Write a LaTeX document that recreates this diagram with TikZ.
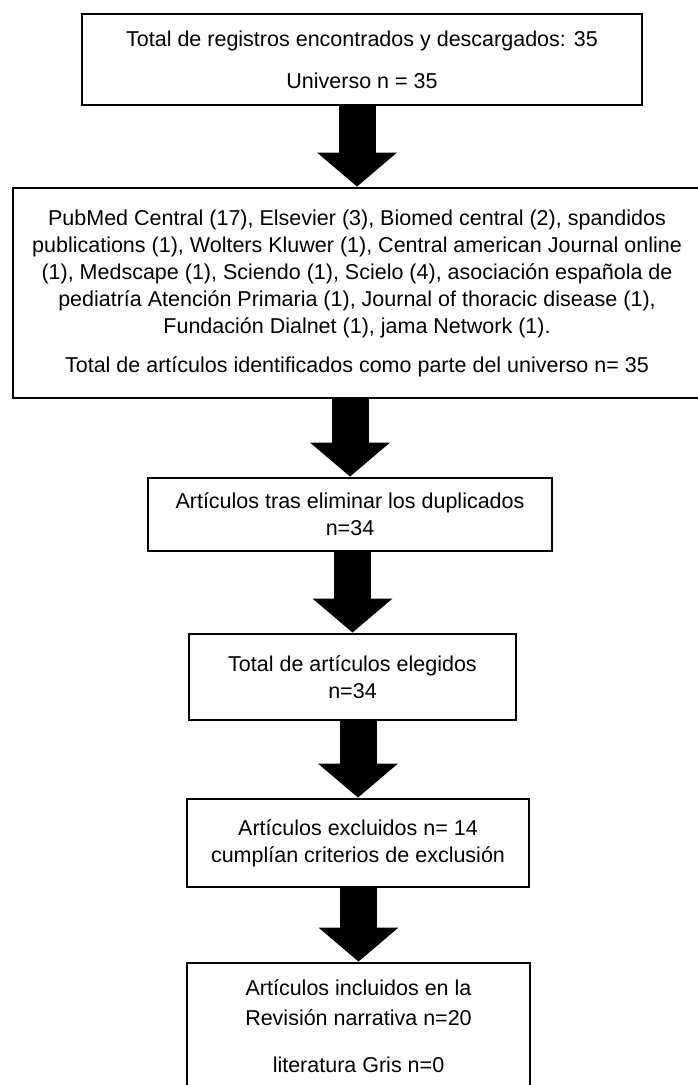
\documentclass[tikz,border=0pt]{standalone}
\usepackage{fontspec}
\setmainfont{Liberation Sans}
\usepackage{xcolor}
\usetikzlibrary{arrows.meta}

\begin{document}
\begin{tikzpicture}[x=1pt, y=-1pt,
    flowbox/.style={draw, line width=2.8pt, align=center, inner sep=0pt, font=\fontsize{21.5}{27}\selectfont},
    fatarrow/.style={line width=37pt, -{Triangle[length=34pt, width=78pt]}}]
  \useasboundingbox (0,0) rectangle (698,1085);
  \clip (0,0) rectangle (698,1085);
  \node[flowbox, minimum width=560pt, minimum height=91pt] (total) at (362,59.5) {Total de registros encontrados y descargados: 35\\[15pt]Universo n = 35};
  \node[flowbox, minimum width=688pt, minimum height=210pt] (fuentes) at (357,293) {PubMed Central (17), Elsevier (3), Biomed central (2), spandidos\\publications (1), Wolters Kluwer (1), Central american Journal online\\(1), Medscape (1), Sciendo (1), Scielo (4), asociación española de\\pediatría Atención Primaria (1), Journal of thoracic disease (1),\\Fundación Dialnet (1), jama Network (1).\\[12pt]Total de artículos identificados como parte del universo n= 35};
  \node[flowbox, minimum width=404pt, minimum height=73pt] (sindup) at (350,514.5) {Artículos tras eliminar los duplicados\\n=34};
  \node[flowbox, minimum width=327pt, minimum height=86pt] (elegidos) at (352.5,677) {Total de artículos elegidos\\n=34};
  \node[flowbox, minimum width=342pt, minimum height=88pt] (excluidos) at (358,843) {Artículos excluidos n= 14\\cumplían criterios de exclusión};
  \node[flowbox, minimum width=343pt, minimum height=126pt] (incluidos) at (358.5,1026) {Artículos incluidos en la\\[3pt]Revisión narrativa n=20\\[20pt]literatura Gris n=0};
  \draw[fatarrow] (fuentes.north |- total.south) -- (fuentes.north);
  \draw[fatarrow] (sindup.north |- fuentes.south) -- (sindup.north);
  \draw[fatarrow] (elegidos.north |- sindup.south) -- (elegidos.north);
  \draw[fatarrow] (excluidos.north |- elegidos.south) -- (excluidos.north);
  \draw[fatarrow] (incluidos.north |- excluidos.south) -- (incluidos.north);
\end{tikzpicture}
\end{document}
